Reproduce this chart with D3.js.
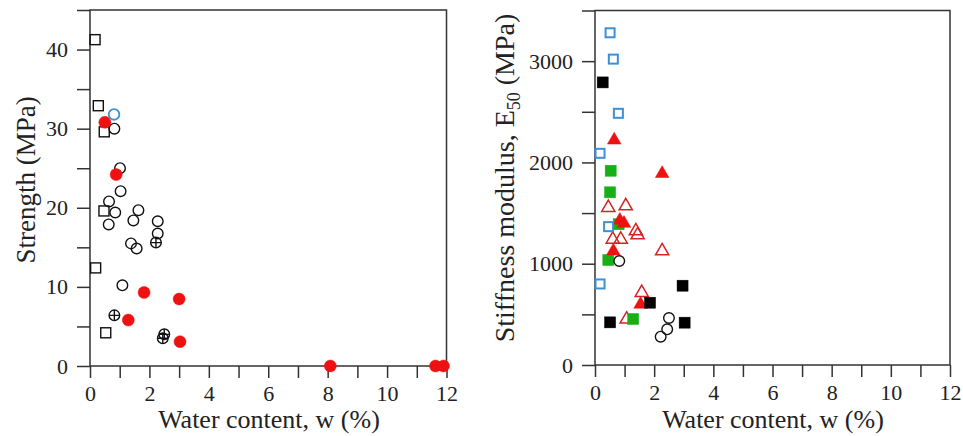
<!DOCTYPE html>
<html>
<head>
<meta charset="utf-8">
<script src="https://cdn.jsdelivr.net/npm/d3@7/dist/d3.min.js"></script>
<style>
  html, body { margin: 0; padding: 0; background: #fff; }
  svg { display: block; }
  text { font-family: "Liberation Serif", "Times New Roman", serif; fill: #222; }
</style>
</head>
<body>
<svg id="chart" width="963" height="436"></svg>
<script>
// ---------- Left panel: Strength (MPa) vs water content ----------
const xTicks = [0, 2, 4, 6, 8, 10, 12];
const strengthTicks = [0, 10, 20, 30, 40];
const stiffnessTicks = [0, 1000, 2000, 3000];

const sqW   = [0.17, 0.28, 0.48, 0.47, 0.19, 0.53];
const sqS   = [41.25, 32.9, 29.6, 19.6, 12.4, 4.2];

const circW = [0.82, 1.01, 1.03, 0.64, 0.85, 1.63, 1.46, 0.63, 2.28, 2.28, 1.38, 1.57, 1.09];
const circS = [30.0, 25.0, 22.1, 20.8, 19.4, 19.7, 18.4, 17.9, 18.3, 16.75, 15.5, 14.85, 10.2];

const crossW = [2.22, 0.82, 2.5, 2.45];
const crossS = [15.6, 6.4, 4.0, 3.5];

const redW = [0.5, 0.88, 1.82, 3.0, 1.29, 3.03, 8.09, 11.63, 11.9];
const redS = [30.8, 24.2, 9.3, 8.46, 5.8, 3.07, 0, 0, 0];

const blueCircW = [0.81];
const blueCircS = [31.8];

// ---------- Right panel: Stiffness modulus E50 (MPa) vs water content ----------
const blueSqW = [0.51, 0.62, 0.79, 0.17, 0.46, 0.17];
const blueSqE = [3280, 3020, 2485, 2090, 1366, 800];

const blackSqW = [0.26, 2.96, 1.86, 0.51, 3.03];
const blackSqE = [2790, 783, 615, 421, 418];

const greenSqW = [0.53, 0.51, 0.8, 0.45, 1.29];
const greenSqE = [1918, 1705, 1390, 1036, 454];

const triFillW = [0.65, 2.27, 0.84, 0.98, 0.62, 1.54];
const triFillE = [2230, 1900, 1438, 1408, 1135, 609];

const triOpenW = [0.45, 1.04, 1.38, 1.44, 0.6, 0.87, 2.27, 1.58, 1.07];
const triOpenE = [1563, 1580, 1333, 1293, 1250, 1250, 1135, 724, 461];

const blackCircW = [0.82, 2.5, 2.44, 2.22];
const blackCircE = [1027, 464, 352, 280];

// ---------- drawing ----------
const svg = d3.select("#chart");
const RED = "#ee1111", BLUE = "#3d8fd6", GREEN = "#16b016", AXIS = "#333";
const SERIF = "'Liberation Serif', 'Times New Roman', serif";

function zip(xs, ys) { return xs.map((x, i) => [x, ys[i]]); }

function panel(opts) {
  const g = svg.append("g");
  const x = d3.scaleLinear().domain([0, 12]).range(opts.xr);
  const y = d3.scaleLinear().domain([0, opts.ymax]).range(opts.yr);

  g.append("rect")
    .attr("x", opts.xr[0]).attr("y", opts.yr[1])
    .attr("width", opts.xr[1] - opts.xr[0]).attr("height", opts.yr[0] - opts.yr[1])
    .attr("fill", "none").attr("stroke", AXIS).attr("stroke-width", 1.5);

  const xa = g.append("g").attr("transform", `translate(0,${opts.yr[0]})`)
    .call(d3.axisBottom(x).tickValues(d3.range(0, 13, 1)).tickSize(12)
      .tickFormat(d => xTicks.includes(d) ? d : ""))
    .attr("font-family", SERIF).attr("font-size", 22);
  xa.select(".domain").remove();
  xa.selectAll("line").attr("stroke", AXIS).attr("stroke-width", 1.5);
  xa.selectAll("text").attr("dy", "0.9em").attr("fill", "#222")
    .style("font-family", SERIF).style("font-size", "22px");

  const ya = g.append("g").attr("transform", `translate(${opts.xr[0]},0)`)
    .call(d3.axisLeft(y).tickValues(opts.minor).tickSize(13)
      .tickFormat(d => opts.major.includes(d) ? d : ""))
    .attr("font-family", SERIF).attr("font-size", 22);
  ya.select(".domain").remove();
  ya.selectAll("line").attr("stroke", AXIS).attr("stroke-width", 1.5);
  ya.selectAll("text").attr("x", -22).attr("fill", "#222")
    .style("font-family", SERIF).style("font-size", "22px");

  return { g, x, y };
}

const L = panel({ xr: [90, 446.5], yr: [366, 10], ymax: 45,
  major: strengthTicks, minor: d3.range(0, 46, 5) });

function squares(P, data, size, stroke, fill, sw) {
  P.g.append("g").selectAll("rect").data(data).join("rect")
    .attr("x", d => P.x(d[0]) - size / 2).attr("y", d => P.y(d[1]) - size / 2)
    .attr("width", size).attr("height", size)
    .attr("fill", fill).attr("stroke", stroke).attr("stroke-width", sw);
}
function circles(P, data, r, stroke, fill, sw) {
  P.g.append("g").selectAll("circle").data(data).join("circle")
    .attr("cx", d => P.x(d[0])).attr("cy", d => P.y(d[1])).attr("r", r)
    .attr("fill", fill).attr("stroke", stroke).attr("stroke-width", sw);
}
function crossed(P, data, r) {
  const gg = P.g.append("g").selectAll("g").data(data).join("g")
    .attr("transform", d => `translate(${P.x(d[0])},${P.y(d[1])})`);
  gg.append("circle").attr("r", r).attr("fill", "none").attr("stroke", "#111").attr("stroke-width", 1.4);
  gg.append("path").attr("d", `M${-r},0H${r}M0,${-r}V${r}`).attr("stroke", "#111").attr("stroke-width", 1.4);
}
function triangles(P, data, size, stroke, fill, sw) {
  const sym = d3.symbol(d3.symbolTriangle, size);
  P.g.append("g").selectAll("path").data(data).join("path")
    .attr("transform", d => `translate(${P.x(d[0])},${P.y(d[1]) + 1})`)
    .attr("d", sym).attr("fill", fill).attr("stroke", stroke).attr("stroke-width", sw);
}

squares(L, zip(sqW, sqS), 10, "#111", "none", 1.4);
circles(L, zip(circW, circS), 5.3, "#111", "none", 1.4);
crossed(L, zip(crossW, crossS), 5.3);
circles(L, zip(redW, redS), 6, RED, RED, 0.5);
circles(L, zip(blueCircW, blueCircS), 5.3, BLUE, "none", 1.8);

const R = panel({ xr: [595, 950], yr: [365, 10.5], ymax: 3500,
  major: stiffnessTicks, minor: d3.range(0, 3501, 500) });

triangles(R, zip(triOpenW, triOpenE), 75, "#d42424", "none", 1.5);
squares(R, zip(greenSqW, greenSqE), 11, GREEN, GREEN, 0.5);
triangles(R, zip(triFillW, triFillE), 80, RED, RED, 0.5);
squares(R, zip(blueSqW, blueSqE), 9, BLUE, "none", 2);
squares(R, zip(blackSqW, blackSqE), 11, "#000", "#000", 0.5);
circles(R, zip(blackCircW, blackCircE), 5.3, "#111", "none", 1.4);

svg.append("text").attr("x", 269).attr("y", 428).attr("text-anchor", "middle")
  .attr("font-size", 26).text("Water content, w (%)");
svg.append("text").attr("x", 773).attr("y", 428).attr("text-anchor", "middle")
  .attr("font-size", 26).text("Water content, w (%)");

svg.append("text").attr("transform", "translate(35,180) rotate(-90)")
  .attr("text-anchor", "middle").attr("font-size", 27).text("Strength (MPa)");

const yl = svg.append("text").attr("transform", "translate(514,178) rotate(-90)")
  .attr("text-anchor", "middle").attr("font-size", 28);
yl.append("tspan").text("Stiffness modulus, E");
yl.append("tspan").attr("font-size", 18).attr("dy", 6).text("50");
yl.append("tspan").attr("dy", -6).text(" (MPa)");
</script>
</body>
</html>
